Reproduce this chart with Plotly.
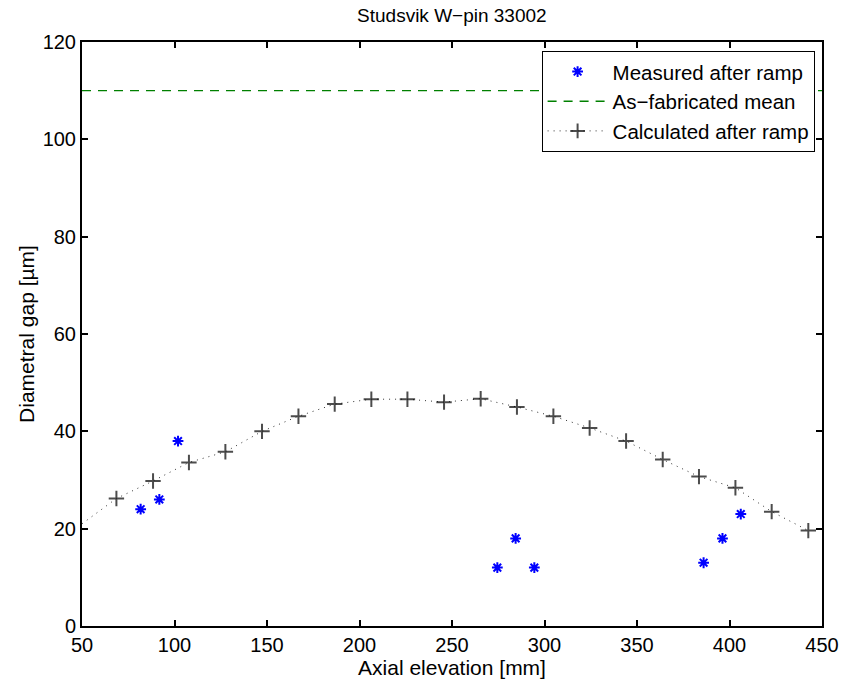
import plotly.graph_objects as go

# measured gap after ramp
meas_x = [81.7, 91.8, 101.9, 274.5, 284.4, 294.5, 386.0, 396.2, 406.1]
meas_y = [24.0, 26.0, 38.0, 12.0, 18.0, 12.0, 13.0, 18.0, 23.0]

# as-fabricated mean gap
fab_x = [50, 450]
fab_y = [110, 110]

# calculated after ramp (first point has no marker, only the line)
calc_x = [50.0, 68.6, 88.4, 107.8, 127.5, 147.3, 167.0, 186.6, 206.4, 225.9, 245.7,
          265.5, 285.1, 304.8, 324.4, 344.1, 363.9, 383.5, 403.2, 422.8, 442.6]
calc_y = [21.0, 26.2, 29.8, 33.6, 35.8, 40.0, 43.1, 45.6, 46.6, 46.6, 46.0,
          46.7, 45.0, 43.1, 40.7, 38.0, 34.2, 30.7, 28.4, 23.5, 19.6]

font = "Liberation Sans, Arial, sans-serif"

fig = go.Figure()
fig.add_trace(go.Scatter(
    x=meas_x, y=meas_y, mode='markers', name='Measured after ramp',
    marker=dict(symbol='asterisk-open', size=9, color='#0000ff',
                line=dict(color='#0000ff', width=2))))
fig.add_trace(go.Scatter(
    x=fab_x, y=fab_y, mode='lines', name='As\u2212fabricated mean',
    line=dict(color='#008000', width=1.3, dash='9px,7px')))
fig.add_trace(go.Scatter(
    x=calc_x, y=calc_y, mode='lines+markers', name='Calculated after ramp',
    line=dict(color='#333333', width=1, dash='1px,5px'),
    marker=dict(symbol='cross-thin-open', size=[0] + [11] * (len(calc_x) - 1),
                color='#000000', line=dict(color='#000000', width=2))))

axis = dict(showline=True, linecolor='black', linewidth=2, mirror='ticks',
            ticks='inside', ticklen=6, tickwidth=1.5, tickcolor='black',
            showgrid=False, zeroline=False, automargin=False,
            tickfont=dict(size=20, color='black'),
            title_font=dict(size=21, color='black'))

fig.update_xaxes(range=[50, 450], tickvals=[50, 100, 150, 200, 250, 300, 350, 400, 450],
                 title_text='Axial elevation [mm]', title_standoff=0, ticklabelstandoff=0,
                 **axis)
fig.update_yaxes(range=[0, 120], tickvals=[0, 20, 40, 60, 80, 100, 120],
                 title_text='Diametral gap [\u00b5m]', title_standoff=2, ticklabelstandoff=0,
                 **axis)

fig.update_layout(
    width=843, height=683,
    margin=dict(l=82, r=21, t=42, b=57),
    paper_bgcolor='white', plot_bgcolor='white',
    font=dict(family=font, color='black'),
    title=dict(text='Studsvik W\u2212pin 33002', x=0.536, xanchor='center',
               y=0.978, yanchor='middle', font=dict(size=19), automargin=False),
    legend=dict(x=0.99, y=0.985, xanchor='right', yanchor='top',
                bgcolor='white', bordercolor='black', borderwidth=1,
                font=dict(size=20.5), tracegroupgap=0, itemwidth=60),
    showlegend=True,
)

fig.write_html("out.html", config={'displayModeBar': False},
               post_script="document.body.style.margin='0';")
